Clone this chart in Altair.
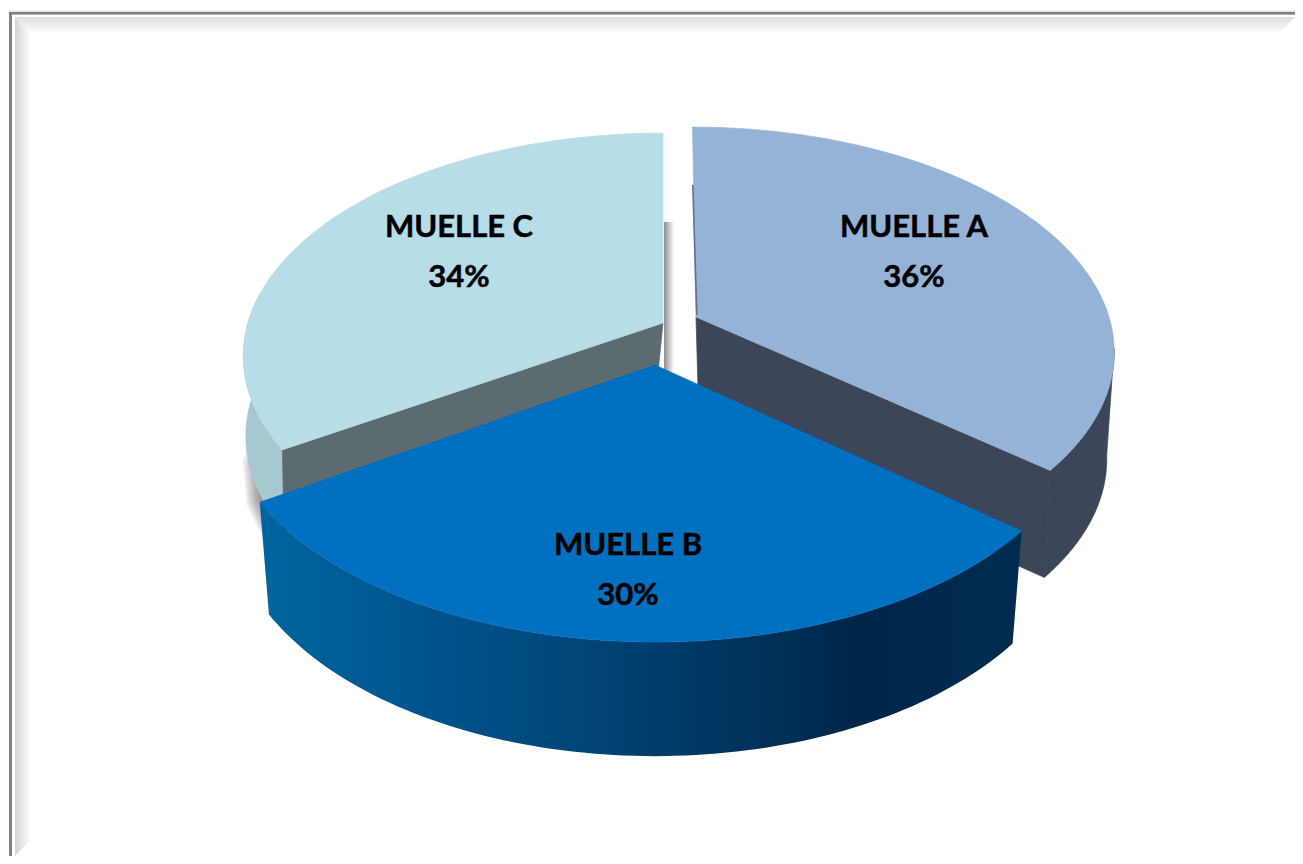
import math
import altair as alt
import pandas as pd

names = ["MUELLE A", "MUELLE B", "MUELLE C"]
shares = [36, 30, 34]
top_colors = ["#95B3D7", "#0070C0", "#B7DDE8"]
inner_wall_colors = ["#3C4658", "#004A80", "#5C6B70"]
outer_wall_colors = ["#3C4658", None, "#A6C8D1"]
label_x = [914, 628, 459]
label_name_y = [228, 546, 228]
label_pct_y = [278, 596, 278]

W, H = 1287, 848
OFF = 8
PERSPECTIVE = -0.148
# apex x, apex y, half width, half depth, skew, bottom x, extrusion, x scale, y scale
pose = [
    (696, 317, 413, 218, 4, 699, 107, 0.975, 1.0),
    (655, 365, 431, 236, 0, 654.7, 110, 0.976, 1.015),
    (663, 323, 415, 218, 0, 655, 80, 0.975, 1.0),
]


def rim(p, deg):
    ax, ay, g, a, sk, *_ = p
    t = math.radians(deg)
    u, v = math.sin(t), -math.cos(t)
    den = 1 + PERSPECTIVE * v
    return (ax + (g * u + sk * v) / den, ay + a * v / den)


def down(p, pt):
    ax, ay, _, _, _, bx, d, s, sy = p
    return (bx + s * (pt[0] - ax), ay + d + sy * (pt[1] - ay))


def arc(p, a0, a1, n=90):
    return [rim(p, a0 + (a1 - a0) * i / n) for i in range(n + 1)]


def shape(points, fill, opacity=1, seam=True):
    ring = [list(q) for q in points] + [list(points[0])]
    feature = {"type": "Feature", "properties": {},
               "geometry": {"type": "Polygon", "coordinates": [ring]}}
    style = dict(fill=fill, opacity=opacity)
    if seam and isinstance(fill, str):
        style.update(stroke=fill, strokeWidth=0.7)
    else:
        style.update(strokeWidth=0)
    return (
        alt.Chart(alt.Data(values=[feature]))
        .mark_geoshape(**style)
        .project(type="identity", scale=1, translate=[-OFF, -OFF])
    )


def grad(stops, horizontal=True):
    return alt.Gradient(
        gradient="linear",
        stops=[alt.GradientStop(color=c, offset=o) for o, c in stops],
        x1=0, y1=0, x2=1 if horizontal else 0, y2=0 if horizontal else 1,
    )


# angular extents from the shares, clockwise from the top
total = sum(shares)
a0 = 0
a1 = a0 + 360 * shares[0] / total
a2 = a1 + 360 * shares[1] / total
a3 = 360
pA, pB, pC = pose
R, B = W + OFF, H + OFF

layers = []

# frame
layers += [
    shape([(8.5, 10.5), (R, 10.5), (R, 15), (8.5, 15)], "#E4E4E4", seam=False),
    shape([(9, 12), (R, 12), (R, 14.5), (9, 14.5)], "#808080", seam=False),
    shape([(9, 12), (12, 12), (12, B), (9, B)], "#808080", seam=False),
    shape([(15, 17), (R, 17), (R - 16, 34), (32, 34)],
          grad([(0, "#DDDDDD"), (1, "#FFFFFF")], horizontal=False)),
    shape([(15, 17), (31, 34), (31, B - 16), (15, B)],
          grad([(0, "#D4D4D4"), (1, "#FFFFFF")])),
]

# soft shadow left of the third slice: nested lenses of low opacity
lens = [(252, 425), (243, 462), (247, 505), (263, 538), (272, 500), (268, 425)]
for k in range(8):
    f = 1 - k * 0.09
    inset = [(270 + (x - 270) * f, 480 + (y - 480) * (1 - k * 0.05)) for x, y in lens]
    layers.append(shape(inset, "#444444", 0.1, seam=False))

# third slice walls
top_c = arc(pC, a2, 278)
layers.append(shape(top_c + [down(pC, q) for q in reversed(top_c)], outer_wall_colors[2]))
corner_c = rim(pC, a2)
layers.append(shape([(pC[0], pC[1]), corner_c, down(pC, corner_c), down(pC, (pC[0], pC[1]))],
                    inner_wall_colors[2]))
layers.append(shape([(664, 222), (674, 222), (674, 372), (664, 372)],
                    grad([(0, "#8C8C8C"), (1, "#FFFFFF")])))

# first slice walls
top_a = arc(pA, 98, a1)
layers.append(shape(top_a + [down(pA, q) for q in reversed(top_a)], outer_wall_colors[0]))
corner_a = rim(pA, a1)
layers.append(shape([(pA[0], pA[1]), corner_a, down(pA, corner_a), down(pA, (pA[0], pA[1]))],
                    inner_wall_colors[0]))

# first and third top faces
layers.append(shape([(pA[0], pA[1])] + arc(pA, a0, a1), top_colors[0]))
layers.append(shape([(692, 185), (693.6, 185), (697.6, 315), (696, 315)], "#5E7190", seam=False))
layers.append(shape([(pC[0], pC[1])] + arc(pC, a2, a3), top_colors[2]))

# second slice
top_b = arc(pB, a1, a2)
layers.append(shape(
    top_b + [down(pB, q) for q in reversed(top_b)],
    grad([(0, "#00659F"), (0.25, "#00528A"), (0.5, "#003F6E"),
          (0.78, "#00264A"), (1, "#002C4F")]),
))
layers.append(shape([(pB[0], pB[1])] + top_b, top_colors[1]))

# labels
rows = []
for n, s, x, y1, y2 in zip(names, shares, label_x, label_name_y, label_pct_y):
    rows.append({"t": n, "x": x, "y": y1})
    rows.append({"t": f"{s}%", "x": x, "y": y2})
labels = (
    alt.Chart(pd.DataFrame(rows))
    .mark_text(font="Lato", fontWeight="bold", fontSize=31, color="#000000",
               stroke="#000000", strokeWidth=0.5, align="center", baseline="middle")
    .encode(
        x=alt.X("x:Q", scale=alt.Scale(domain=[OFF, W + OFF]), axis=None),
        y=alt.Y("y:Q", scale=alt.Scale(domain=[H + OFF, OFF]), axis=None),
        text="t:N",
    )
)
layers.append(labels)

chart = (
    alt.layer(*layers)
    .properties(width=W, height=H, padding=0, autosize=alt.AutoSizeParams(type="none"),
                background="#FFFFFF")
    .configure_view(strokeWidth=0)
)
chart.save("out.html", embed_options={"renderer": "svg", "actions": False})
